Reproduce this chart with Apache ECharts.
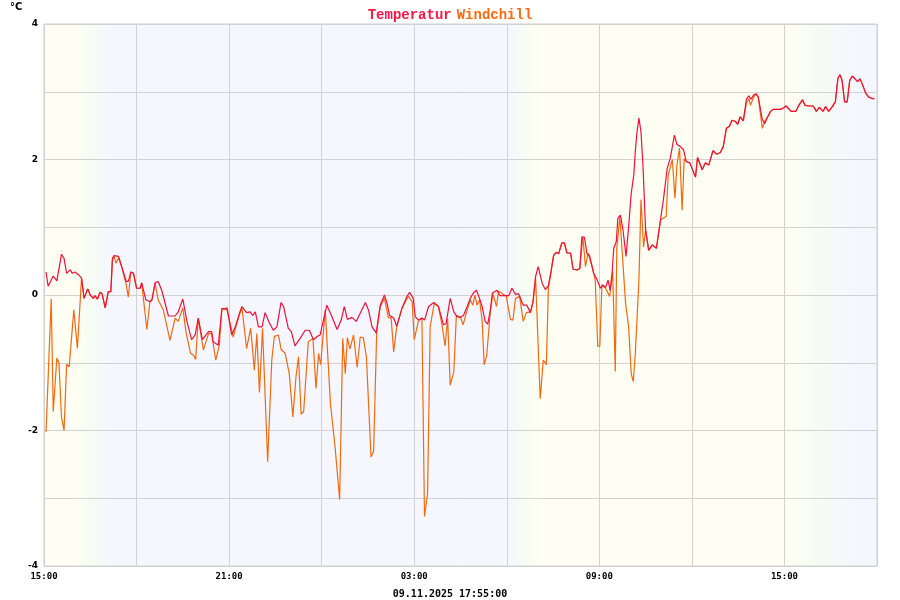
<!DOCTYPE html>
<html><head><meta charset="utf-8">
<script src="https://cdn.jsdelivr.net/npm/echarts@6/dist/echarts.min.js"></script>
<style>html,body{margin:0;padding:0;background:#fff}#c{width:900px;height:600px}</style>
</head><body><div id="c"></div>
<script>
// time in minutes since 08.11.2025 15:00
const tempMin = [4,8,18,25,34,39,44,51,55,60,67,73,78,85,90,96,99,104,109,113,119,125,130,133,136,145,151,160,164,169,174,180,187,190,198,206,210,216,222,229,242,255,261,270,278,287,294,300,308,320,326,329,339,346,352,356,365,372,381,385,394,401,406,411,417,424,430,437,446,453,461,466,475,481,488,498,508,516,524,532,537,550,560,570,578,584,590,599,607,615,625,631,638,646,654,662,667,672,680,686,696,706,711,718,722,728,735,740,748,758,767,777,782,790,797,803,810,816,823,829,835,841,847,852,858,863,868,872,881,887,897,904,910,917,923,932,939,946,951,956,961,969,975,981,986,991,996,1001,1007,1012,1017,1024,1029,1037,1042,1046,1051,1056,1061,1069,1076,1082,1087,1092,1097,1101,1105,1108,1113,1116,1121,1126,1132,1137,1142,1147,1150,1153,1157,1161,1165,1170,1176,1183,1191,1199,1205,1212,1218,1226,1231,1238,1244,1249,1256,1267,1271,1280,1286,1293,1301,1308,1315,1321,1327,1333,1338,1345,1349,1354,1360,1366,1371,1375,1380,1385,1389,1392,1397,1402,1406,1413,1418,1426,1432,1438,1443,1448,1453,1462,1468,1475,1480,1488,1496,1502,1508,1515,1520,1526,1533,1539,1544,1548,1552,1557,1562,1567,1572,1576,1582,1587,1591,1598,1604,1611,1615];
const tempVal = [0.34,0.13,0.28,0.21,0.60,0.54,0.32,0.37,0.32,0.34,0.30,0.25,-0.05,0.09,0.0,-0.05,-0.01,-0.06,0.04,0.02,-0.19,0.05,0.05,0.54,0.58,0.57,0.42,0.20,0.20,0.34,0.32,0.10,0.10,0.18,-0.07,-0.10,-0.07,0.18,0.20,0.07,-0.31,-0.31,-0.25,-0.06,-0.39,-0.66,-0.59,-0.34,-0.66,-0.54,-0.54,-0.69,-0.74,-0.20,-0.20,-0.19,-0.59,-0.47,-0.25,-0.17,-0.26,-0.25,-0.30,-0.25,-0.47,-0.47,-0.26,-0.39,-0.52,-0.47,-0.11,-0.17,-0.49,-0.54,-0.75,-0.64,-0.52,-0.52,-0.66,-0.61,-0.59,-0.15,-0.32,-0.51,-0.37,-0.17,-0.36,-0.33,-0.39,-0.27,-0.11,-0.22,-0.47,-0.56,-0.15,0.0,-0.12,-0.30,-0.34,-0.46,-0.20,-0.02,0.04,-0.05,-0.32,-0.37,-0.34,-0.37,-0.17,-0.11,-0.17,-0.44,-0.42,-0.05,-0.25,-0.32,-0.33,-0.30,-0.17,-0.05,0.03,0.07,-0.05,-0.17,-0.39,-0.43,-0.22,0.03,0.07,-0.01,-0.01,-0.01,0.10,0.01,0.02,-0.15,-0.15,-0.26,-0.10,0.27,0.42,0.17,0.08,0.14,0.34,0.58,0.63,0.61,0.77,0.77,0.62,0.62,0.38,0.37,0.39,0.86,0.85,0.61,0.58,0.32,0.22,0.10,0.15,0.11,0.22,0.07,0.34,0.69,0.79,1.13,1.18,0.96,0.57,1.01,1.50,1.77,2.12,2.39,2.61,2.41,1.89,0.96,0.66,0.74,0.69,1.11,1.43,1.87,2.02,2.36,2.22,2.19,2.14,1.97,1.95,1.74,2.03,1.85,1.95,1.92,2.13,2.08,2.10,2.19,2.46,2.49,2.58,2.56,2.52,2.63,2.57,2.89,2.94,2.89,2.95,2.97,2.92,2.80,2.59,2.53,2.61,2.71,2.74,2.74,2.74,2.76,2.79,2.75,2.71,2.71,2.80,2.88,2.80,2.79,2.79,2.71,2.77,2.71,2.78,2.71,2.78,2.85,3.20,3.25,3.17,2.85,2.85,3.17,3.23,3.20,3.15,3.19,3.12,2.98,2.92,2.90,2.90];
const chillMin = [4,14,18,25,29,34,39,44,49,58,65,73,78,85,90,96,99,104,109,113,119,125,130,133,136,140,145,151,160,164,169,174,180,187,190,200,206,210,216,222,232,245,255,261,270,276,285,291,295,300,310,320,326,334,341,346,356,368,372,381,385,394,402,409,414,419,425,435,443,448,456,461,469,477,484,490,495,500,505,514,523,529,534,538,547,557,566,575,581,586,590,595,602,609,615,621,627,636,641,647,654,662,670,675,680,686,696,706,709,716,720,728,735,740,746,751,759,767,774,780,785,790,797,802,810,815,823,829,834,838,842,847,852,856,861,868,873,880,884,899,907,912,917,925,932,938,946,951,956,965,971,977,981,986,991,996,1001,1007,1012,1017,1024,1029,1037,1042,1048,1053,1058,1066,1072,1077,1081,1085,1092,1100,1106,1111,1114,1120,1131,1137,1142,1146,1150,1157,1161,1166,1170,1176,1183,1191,1199,1210,1214,1222,1227,1231,1236,1241,1245,1249,1256,1267,1271,1280,1286,1293,1301,1308,1315,1321,1327,1333,1338,1345,1349,1354,1360,1366,1371,1374,1380,1385,1389,1397,1402,1406,1413,1418,1426,1432,1438,1443,1448,1453,1462,1468,1475,1480,1488,1496,1502,1508,1515,1520,1526,1533,1539,1544,1548,1552,1557,1562,1567,1572,1576,1582,1587,1591,1598,1604,1611,1615];
const chillVal = [-2.02,-0.06,-1.72,-0.93,-1.0,-1.80,-2.0,-1.02,-1.06,-0.22,-0.79,0.25,-0.05,0.09,0.0,-0.05,-0.01,-0.06,0.04,0.02,-0.19,0.05,0.05,0.50,0.58,0.47,0.55,0.42,0.15,-0.03,0.34,0.32,0.10,0.10,0.18,-0.51,-0.10,-0.07,0.18,-0.07,-0.22,-0.67,-0.34,-0.39,-0.19,-0.54,-0.86,-0.89,-0.95,-0.34,-0.81,-0.57,-0.57,-0.96,-0.74,-0.20,-0.22,-0.62,-0.50,-0.27,-0.19,-0.79,-0.49,-1.11,-0.57,-1.44,-0.49,-2.46,-0.96,-0.61,-0.59,-0.80,-0.86,-1.16,-1.80,-1.21,-0.91,-1.76,-1.72,-0.69,-0.64,-1.38,-0.86,-1.03,-0.22,-1.60,-2.24,-3.02,-0.64,-1.16,-0.63,-0.80,-0.59,-1.07,-0.62,-0.63,-0.91,-2.39,-2.31,-0.55,-0.17,-0.05,-0.34,-0.33,-0.84,-0.47,-0.20,-0.05,-0.02,-0.10,-0.66,-0.39,-0.34,-3.27,-2.93,-0.47,-0.12,-0.17,-0.44,-0.75,-0.35,-1.33,-1.13,-0.30,-0.33,-0.44,-0.22,-0.07,-0.15,0.0,-0.15,-0.07,-0.37,-1.03,-0.89,-0.25,0.02,-0.17,0.06,-0.02,-0.36,-0.37,-0.05,-0.02,-0.39,-0.26,-0.25,-0.10,0.25,-1.53,-0.96,-1.03,0.12,0.34,0.58,0.63,0.61,0.77,0.77,0.62,0.62,0.38,0.37,0.39,0.86,0.42,0.62,0.42,0.22,-0.76,-0.75,0.15,0.10,-0.02,0.34,-1.13,0.70,1.15,-0.12,-0.47,-1.16,-1.28,-0.86,0.22,1.41,0.71,0.96,0.66,0.74,0.69,1.11,1.16,1.77,2.0,1.43,1.92,2.17,1.25,2.01,1.97,1.95,1.74,2.03,1.85,1.95,1.92,2.13,2.08,2.10,2.19,2.46,2.49,2.58,2.56,2.52,2.63,2.57,2.83,2.90,2.80,2.92,2.97,2.92,2.46,2.57,2.61,2.71,2.74,2.74,2.74,2.76,2.79,2.75,2.71,2.71,2.80,2.88,2.80,2.79,2.79,2.71,2.77,2.71,2.78,2.71,2.78,2.85,3.20,3.25,3.17,2.85,2.85,3.17,3.23,3.20,3.15,3.19,3.12,2.98,2.92,2.90,2.90];
const xTickLabels = {0:'15:00',360:'21:00',720:'03:00',1080:'09:00',1440:'15:00'};
const yTickLabels = {'4':'4','2':'2','0':'0','-2':'-2','-4':'-4'};
// daylight phases (minutes since start): day, dusk, night, dawn, day, dusk, night
const phases = [[0,60,'day'],[60,130,'dusk'],[130,900,'night'],[900,965,'dawn'],[965,1446,'day'],[1446,1570,'dusk'],[1570,1620,'night']];

const DAY='#fffef3', NIGHT='#f6f7fe', MID='#f5fcf3';
function phaseColor(p){
  if(p==='day') return DAY;
  if(p==='night') return NIGHT;
  const a = p==='dusk' ? [DAY,MID,NIGHT] : [NIGHT,MID,DAY];
  return new echarts.graphic.LinearGradient(0,0,1,0,[{offset:0,color:a[0]},{offset:0.5,color:a[1]},{offset:1,color:a[2]}]);
}
const areas = phases.map(p=>[{xAxis:p[0],itemStyle:{color:phaseColor(p[2])}},{xAxis:p[1]}]);

const chart = echarts.init(document.getElementById('c'),null,{renderer:'canvas'});
chart.setOption({
  animation:false,
  backgroundColor:'#fff',
  title:{
    text:'{a|Temperatur} {b|Windchill}', left:'center', top:1,
    textStyle:{rich:{
      a:{color:'#ff1744',fontFamily:'Liberation Mono',fontWeight:'bold',fontSize:14},
      b:{color:'#ff6a10',fontFamily:'Liberation Mono',fontWeight:'bold',fontSize:14}
    }}
  },
  graphic:[
    {type:'text',left:10,top:2,style:{text:'°C',font:'bold 10px "DejaVu Sans"',fill:'#000'}},
    {type:'text',left:'center',top:589,style:{text:'09.11.2025 17:55:00',font:'bold 10px "DejaVu Sans Mono"',fill:'#000'}}
  ],
  grid:{left:44,right:23,top:24,bottom:34,show:true,borderColor:'#cfcfcf',borderWidth:1,backgroundColor:'transparent',z:1},
  xAxis:{type:'value',min:0,max:1620,interval:180,z:1,
    axisLine:{show:false},axisTick:{show:false},
    splitLine:{show:true,lineStyle:{color:'#d2d2d2',width:1}},
    axisLabel:{margin:6,color:'#000',fontFamily:'DejaVu Sans Mono',fontWeight:'bold',fontSize:9,
      formatter:v=>xTickLabels[v]||'', showMaxLabel:false}
  },
  yAxis:{type:'value',min:-4,max:4,interval:1,z:1,
    axisLine:{show:false},axisTick:{show:false},
    splitLine:{show:true,lineStyle:{color:'#d2d2d2',width:1}},
    axisLabel:{margin:6,color:'#000',fontFamily:'DejaVu Sans',fontWeight:'bold',fontSize:9,
      formatter:v=>yTickLabels[String(v)]||''}
  },
  series:[
    {name:'daylight',type:'line',data:[],z:0,silent:true,markArea:{silent:true,z:0,data:areas}},
    {name:'Windchill',type:'line',data:chillMin.map((m,i)=>[m,chillVal[i]]),showSymbol:false,
     lineStyle:{color:'#f06a10',width:1.2},itemStyle:{color:'#f06a10'},z:2},
    {name:'Temperatur',type:'line',data:tempMin.map((m,i)=>[m,tempVal[i]]),showSymbol:false,
     lineStyle:{color:'#f0103c',width:1.2},itemStyle:{color:'#f0103c'},z:3}
  ]
});
</script></body></html>
